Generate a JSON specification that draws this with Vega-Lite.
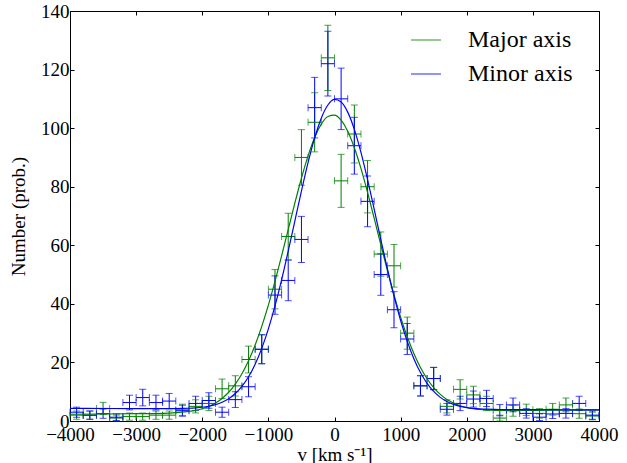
{
  "$schema": "https://vega.github.io/schema/vega-lite/v6.json",
  "width": 529,
  "height": 410,
  "autosize": {"type": "none"},
  "padding": {"left": 70, "top": 11, "right": 28, "bottom": 42},
  "background": "white",
  "datasets": {
    "pts": [
      {"s":"Major axis","v":-3900,"v0":-4000,"v1":-3800,"n":2,"lo":0.59,"hi":3.41},
      {"s":"Major axis","v":-3700,"v0":-3800,"v1":-3600,"n":2,"lo":0.59,"hi":3.41},
      {"s":"Major axis","v":-3500,"v0":-3600,"v1":-3400,"n":4.3,"lo":2.23,"hi":6.37},
      {"s":"Major axis","v":-3300,"v0":-3400,"v1":-3200,"n":1,"lo":0,"hi":2},
      {"s":"Major axis","v":-3100,"v0":-3200,"v1":-3000,"n":1.5,"lo":0.28,"hi":2.72},
      {"s":"Major axis","v":-2900,"v0":-3000,"v1":-2800,"n":1.5,"lo":0.28,"hi":2.72},
      {"s":"Major axis","v":-2700,"v0":-2800,"v1":-2600,"n":2,"lo":0.59,"hi":3.41},
      {"s":"Major axis","v":-2500,"v0":-2600,"v1":-2400,"n":2,"lo":0.59,"hi":3.41},
      {"s":"Major axis","v":-2300,"v0":-2400,"v1":-2200,"n":3.8,"lo":1.85,"hi":5.75},
      {"s":"Major axis","v":-2100,"v0":-2200,"v1":-2000,"n":5,"lo":2.76,"hi":7.24},
      {"s":"Major axis","v":-1900,"v0":-2000,"v1":-1800,"n":6,"lo":3.55,"hi":8.45},
      {"s":"Major axis","v":-1700,"v0":-1800,"v1":-1600,"n":11,"lo":7.68,"hi":14.32},
      {"s":"Major axis","v":-1500,"v0":-1600,"v1":-1400,"n":12,"lo":8.54,"hi":15.46},
      {"s":"Major axis","v":-1300,"v0":-1400,"v1":-1200,"n":21,"lo":16.42,"hi":25.58},
      {"s":"Major axis","v":-1100,"v0":-1200,"v1":-1000,"n":24.5,"lo":19.55,"hi":29.45},
      {"s":"Major axis","v":-900,"v0":-1000,"v1":-800,"n":45,"lo":38.29,"hi":51.71},
      {"s":"Major axis","v":-700,"v0":-800,"v1":-600,"n":63,"lo":55.06,"hi":70.94},
      {"s":"Major axis","v":-500,"v0":-600,"v1":-400,"n":90,"lo":80.51,"hi":99.49},
      {"s":"Major axis","v":-300,"v0":-400,"v1":-200,"n":102,"lo":91.9,"hi":112.1},
      {"s":"Major axis","v":-100,"v0":-200,"v1":0,"n":124,"lo":112.86,"hi":135.14},
      {"s":"Major axis","v":100,"v0":0,"v1":200,"n":82,"lo":72.94,"hi":91.06},
      {"s":"Major axis","v":300,"v0":200,"v1":400,"n":98,"lo":88.1,"hi":107.9},
      {"s":"Major axis","v":500,"v0":400,"v1":600,"n":80,"lo":71.06,"hi":88.94},
      {"s":"Major axis","v":700,"v0":600,"v1":800,"n":57,"lo":49.45,"hi":64.55},
      {"s":"Major axis","v":900,"v0":800,"v1":1000,"n":53,"lo":45.72,"hi":60.28},
      {"s":"Major axis","v":1100,"v0":1000,"v1":1200,"n":30,"lo":24.52,"hi":35.48},
      {"s":"Major axis","v":1300,"v0":1200,"v1":1400,"n":12,"lo":8.54,"hi":15.46},
      {"s":"Major axis","v":1500,"v0":1400,"v1":1600,"n":14.5,"lo":10.69,"hi":18.31},
      {"s":"Major axis","v":1700,"v0":1600,"v1":1800,"n":5,"lo":2.76,"hi":7.24},
      {"s":"Major axis","v":1900,"v0":1800,"v1":2000,"n":10.8,"lo":7.51,"hi":14.09},
      {"s":"Major axis","v":2100,"v0":2000,"v1":2200,"n":8.9,"lo":5.92,"hi":11.88},
      {"s":"Major axis","v":2300,"v0":2200,"v1":2400,"n":6,"lo":3.55,"hi":8.45},
      {"s":"Major axis","v":2500,"v0":2400,"v1":2600,"n":1,"lo":0,"hi":2},
      {"s":"Major axis","v":2700,"v0":2600,"v1":2800,"n":3.5,"lo":1.63,"hi":5.37},
      {"s":"Major axis","v":2900,"v0":2800,"v1":3000,"n":3.8,"lo":1.85,"hi":5.75},
      {"s":"Major axis","v":3100,"v0":3000,"v1":3200,"n":2.6,"lo":0.99,"hi":4.21},
      {"s":"Major axis","v":3300,"v0":3200,"v1":3400,"n":4,"lo":2,"hi":6},
      {"s":"Major axis","v":3500,"v0":3400,"v1":3600,"n":5.5,"lo":3.15,"hi":7.85},
      {"s":"Major axis","v":3700,"v0":3600,"v1":3800,"n":2.5,"lo":0.92,"hi":4.08},
      {"s":"Major axis","v":3900,"v0":3800,"v1":4000,"n":1.7,"lo":0.4,"hi":3.0},
      {"s":"Minor axis","v":-3900,"v0":-4000,"v1":-3800,"n":3,"lo":1.27,"hi":4.73},
      {"s":"Minor axis","v":-3700,"v0":-3800,"v1":-3600,"n":2,"lo":0.59,"hi":3.41},
      {"s":"Minor axis","v":-3500,"v0":-3600,"v1":-3400,"n":2.5,"lo":0.92,"hi":4.08},
      {"s":"Minor axis","v":-3300,"v0":-3400,"v1":-3200,"n":1.3,"lo":0.16,"hi":2.44},
      {"s":"Minor axis","v":-3100,"v0":-3200,"v1":-3000,"n":6.3,"lo":3.79,"hi":8.81},
      {"s":"Minor axis","v":-2900,"v0":-3000,"v1":-2800,"n":8,"lo":5.17,"hi":10.83},
      {"s":"Minor axis","v":-2700,"v0":-2800,"v1":-2600,"n":6.3,"lo":3.79,"hi":8.81},
      {"s":"Minor axis","v":-2500,"v0":-2600,"v1":-2400,"n":6.8,"lo":4.19,"hi":9.41},
      {"s":"Minor axis","v":-2300,"v0":-2400,"v1":-2200,"n":3.5,"lo":1.63,"hi":5.37},
      {"s":"Minor axis","v":-2100,"v0":-2200,"v1":-2000,"n":6,"lo":3.55,"hi":8.45},
      {"s":"Minor axis","v":-1900,"v0":-2000,"v1":-1800,"n":7,"lo":4.35,"hi":9.65},
      {"s":"Minor axis","v":-1700,"v0":-1800,"v1":-1600,"n":3,"lo":1.27,"hi":4.73},
      {"s":"Minor axis","v":-1500,"v0":-1600,"v1":-1400,"n":7.3,"lo":4.6,"hi":10.0},
      {"s":"Minor axis","v":-1300,"v0":-1400,"v1":-1200,"n":11.7,"lo":8.28,"hi":15.12},
      {"s":"Minor axis","v":-1100,"v0":-1200,"v1":-1000,"n":24.5,"lo":19.55,"hi":29.45},
      {"s":"Minor axis","v":-900,"v0":-1000,"v1":-800,"n":43,"lo":36.44,"hi":49.56},
      {"s":"Minor axis","v":-700,"v0":-800,"v1":-600,"n":48,"lo":41.07,"hi":54.93},
      {"s":"Minor axis","v":-500,"v0":-600,"v1":-400,"n":62,"lo":54.13,"hi":69.87},
      {"s":"Minor axis","v":-300,"v0":-400,"v1":-200,"n":107,"lo":96.66,"hi":117.34},
      {"s":"Minor axis","v":-100,"v0":-200,"v1":0,"n":122,"lo":110.95,"hi":133.05},
      {"s":"Minor axis","v":100,"v0":0,"v1":200,"n":110,"lo":99.51,"hi":120.49},
      {"s":"Minor axis","v":300,"v0":200,"v1":400,"n":94,"lo":84.3,"hi":103.7},
      {"s":"Minor axis","v":500,"v0":400,"v1":600,"n":75,"lo":66.34,"hi":83.66},
      {"s":"Minor axis","v":700,"v0":600,"v1":800,"n":50,"lo":42.93,"hi":57.07},
      {"s":"Minor axis","v":900,"v0":800,"v1":1000,"n":38,"lo":31.84,"hi":44.16},
      {"s":"Minor axis","v":1100,"v0":1000,"v1":1200,"n":28,"lo":22.71,"hi":33.29},
      {"s":"Minor axis","v":1300,"v0":1200,"v1":1400,"n":12,"lo":8.54,"hi":15.46},
      {"s":"Minor axis","v":1500,"v0":1400,"v1":1600,"n":14.5,"lo":10.69,"hi":18.31},
      {"s":"Minor axis","v":1700,"v0":1600,"v1":1800,"n":4,"lo":2,"hi":6},
      {"s":"Minor axis","v":1900,"v0":1800,"v1":2000,"n":6,"lo":3.55,"hi":8.45},
      {"s":"Minor axis","v":2100,"v0":2000,"v1":2200,"n":7.5,"lo":4.76,"hi":10.24},
      {"s":"Minor axis","v":2300,"v0":2200,"v1":2400,"n":7.7,"lo":4.93,"hi":10.47},
      {"s":"Minor axis","v":2500,"v0":2400,"v1":2600,"n":3.7,"lo":1.78,"hi":5.62},
      {"s":"Minor axis","v":2700,"v0":2600,"v1":2800,"n":5.5,"lo":3.15,"hi":7.85},
      {"s":"Minor axis","v":2900,"v0":2800,"v1":3000,"n":2.6,"lo":0.99,"hi":4.21},
      {"s":"Minor axis","v":3100,"v0":3000,"v1":3200,"n":1.3,"lo":0.16,"hi":2.44},
      {"s":"Minor axis","v":3300,"v0":3200,"v1":3400,"n":2.4,"lo":0.85,"hi":3.95},
      {"s":"Minor axis","v":3500,"v0":3400,"v1":3600,"n":2.6,"lo":0.99,"hi":4.21},
      {"s":"Minor axis","v":3700,"v0":3600,"v1":3800,"n":6,"lo":3.55,"hi":8.45},
      {"s":"Minor axis","v":3900,"v0":3800,"v1":4000,"n":2,"lo":0.59,"hi":3.41}
    ],
    "fit": [
      {"s":"Major axis","v":-4000,"n":2.30},{"s":"Major axis","v":-3500,"n":2.39},{"s":"Major axis","v":-3000,"n":2.49},
      {"s":"Major axis","v":-2500,"n":2.72},{"s":"Major axis","v":-2400,"n":2.83},{"s":"Major axis","v":-2300,"n":3.01},
      {"s":"Major axis","v":-2200,"n":3.26},{"s":"Major axis","v":-2100,"n":3.65},{"s":"Major axis","v":-2000,"n":4.20},
      {"s":"Major axis","v":-1900,"n":5.00},{"s":"Major axis","v":-1800,"n":6.14},{"s":"Major axis","v":-1700,"n":7.71},
      {"s":"Major axis","v":-1600,"n":9.81},{"s":"Major axis","v":-1500,"n":12.58},{"s":"Major axis","v":-1400,"n":16.13},
      {"s":"Major axis","v":-1300,"n":20.55},{"s":"Major axis","v":-1200,"n":25.93},{"s":"Major axis","v":-1100,"n":32.29},
      {"s":"Major axis","v":-1000,"n":39.55},{"s":"Major axis","v":-900,"n":47.65},{"s":"Major axis","v":-800,"n":56.36},
      {"s":"Major axis","v":-700,"n":65.38},{"s":"Major axis","v":-600,"n":74.38},{"s":"Major axis","v":-500,"n":82.89},
      {"s":"Major axis","v":-400,"n":90.51},{"s":"Major axis","v":-300,"n":96.81},{"s":"Major axis","v":-200,"n":101.38},
      {"s":"Major axis","v":-100,"n":103.99},{"s":"Major axis","v":0,"n":104.45},{"s":"Major axis","v":100,"n":102.73},
      {"s":"Major axis","v":200,"n":98.95},{"s":"Major axis","v":300,"n":93.33},{"s":"Major axis","v":400,"n":86.24},
      {"s":"Major axis","v":500,"n":78.06},{"s":"Major axis","v":600,"n":69.24},{"s":"Major axis","v":700,"n":60.22},
      {"s":"Major axis","v":800,"n":51.39},{"s":"Major axis","v":900,"n":43.06},{"s":"Major axis","v":1000,"n":35.47},
      {"s":"Major axis","v":1100,"n":28.78},{"s":"Major axis","v":1200,"n":23.05},{"s":"Major axis","v":1300,"n":18.28},
      {"s":"Major axis","v":1400,"n":14.43},{"s":"Major axis","v":1500,"n":11.41},{"s":"Major axis","v":1600,"n":9.09},
      {"s":"Major axis","v":1700,"n":7.36},{"s":"Major axis","v":1800,"n":6.11},{"s":"Major axis","v":1900,"n":5.22},
      {"s":"Major axis","v":2000,"n":4.61},{"s":"Major axis","v":2100,"n":4.19},{"s":"Major axis","v":2200,"n":3.93},
      {"s":"Major axis","v":2300,"n":3.77},{"s":"Major axis","v":2400,"n":3.67},{"s":"Major axis","v":2500,"n":3.62},
      {"s":"Major axis","v":3000,"n":3.61},{"s":"Major axis","v":3500,"n":3.71},{"s":"Major axis","v":4000,"n":3.80},
      {"s":"Minor axis","v":-4000,"n":4.30},{"s":"Minor axis","v":-3500,"n":4.27},{"s":"Minor axis","v":-3000,"n":4.24},
      {"s":"Minor axis","v":-2500,"n":4.24},{"s":"Minor axis","v":-2400,"n":4.25},{"s":"Minor axis","v":-2300,"n":4.29},
      {"s":"Minor axis","v":-2200,"n":4.36},{"s":"Minor axis","v":-2100,"n":4.49},{"s":"Minor axis","v":-2000,"n":4.69},
      {"s":"Minor axis","v":-1900,"n":5.04},{"s":"Minor axis","v":-1800,"n":5.58},{"s":"Minor axis","v":-1700,"n":6.41},
      {"s":"Minor axis","v":-1600,"n":7.63},{"s":"Minor axis","v":-1500,"n":9.38},{"s":"Minor axis","v":-1400,"n":11.82},
      {"s":"Minor axis","v":-1300,"n":15.10},{"s":"Minor axis","v":-1200,"n":19.40},{"s":"Minor axis","v":-1100,"n":24.81},
      {"s":"Minor axis","v":-1000,"n":31.45},{"s":"Minor axis","v":-900,"n":39.30},{"s":"Minor axis","v":-800,"n":48.22},
      {"s":"Minor axis","v":-700,"n":58.00},{"s":"Minor axis","v":-600,"n":68.26},{"s":"Minor axis","v":-500,"n":78.51},
      {"s":"Minor axis","v":-400,"n":88.19},{"s":"Minor axis","v":-300,"n":96.68},{"s":"Minor axis","v":-200,"n":103.41},
      {"s":"Minor axis","v":-100,"n":107.90},{"s":"Minor axis","v":0,"n":109.79},{"s":"Minor axis","v":100,"n":108.96},
      {"s":"Minor axis","v":200,"n":105.47},{"s":"Minor axis","v":300,"n":99.57},{"s":"Minor axis","v":400,"n":91.72},
      {"s":"Minor axis","v":500,"n":82.42},{"s":"Minor axis","v":600,"n":72.31},{"s":"Minor axis","v":700,"n":61.99},
      {"s":"Minor axis","v":800,"n":51.95},{"s":"Minor axis","v":900,"n":42.63},{"s":"Minor axis","v":1000,"n":34.32},
      {"s":"Minor axis","v":1100,"n":27.19},{"s":"Minor axis","v":1200,"n":21.28},{"s":"Minor axis","v":1300,"n":16.53},
      {"s":"Minor axis","v":1400,"n":12.85},{"s":"Minor axis","v":1500,"n":10.09},{"s":"Minor axis","v":1600,"n":8.06},
      {"s":"Minor axis","v":1700,"n":6.63},{"s":"Minor axis","v":1800,"n":5.66},{"s":"Minor axis","v":1900,"n":5.00},
      {"s":"Minor axis","v":2000,"n":4.58},{"s":"Minor axis","v":2100,"n":4.30},{"s":"Minor axis","v":2200,"n":4.13},
      {"s":"Minor axis","v":2300,"n":4.03},{"s":"Minor axis","v":2400,"n":3.97},{"s":"Minor axis","v":2500,"n":3.93},
      {"s":"Minor axis","v":3000,"n":3.86},{"s":"Minor axis","v":3500,"n":3.83},{"s":"Minor axis","v":4000,"n":3.80}
    ]
  },
  "resolve": {"axis": {"x": "independent", "y": "independent"}},
  "layer": [
    {
      "data": {"name": "pts"},
      "mark": {"type": "rule", "strokeWidth": 1},
      "encoding": {
        "x": {"field": "v", "type": "quantitative", "scale": {"domain": [-4000, 4000], "nice": false},
              "axis": {"orient": "bottom", "values": [-4000,-3000,-2000,-1000,0,1000,2000,3000,4000], "format": "d",
                       "labelPadding": 8, "labelOverlap": false, "labelFlush": false, "labelBound": false,
                       "title": "v [km s⁻¹]", "titleX": 264.5, "titleY": 39, "titleBaseline": "alphabetic", "titleAnchor": "middle"}},
        "y": {"field": "lo", "type": "quantitative", "scale": {"domain": [0, 140], "nice": false},
              "axis": {"orient": "left", "values": [0,20,40,60,80,100,120,140], "labelPadding": 5, "labelOverlap": false, "labelFlush": false,
                       "title": "Number (prob.)", "titleX": -52, "titleY": 205, "titleAngle": -90, "titleBaseline": "middle", "titleAlign": "center"}},
        "y2": {"field": "hi"},
        "color": {"field": "s", "type": "nominal", "scale": {"domain": ["Major axis", "Minor axis"], "range": ["#008000", "#0000ff"]}}
      }
    },
    {
      "data": {"name": "pts"},
      "mark": {"type": "rule", "strokeWidth": 1},
      "encoding": {
        "x": {"field": "v0", "type": "quantitative",
              "axis": {"orient": "top", "values": [-4000,-3000,-2000,-1000,0,1000,2000,3000,4000], "labels": false, "title": null}},
        "x2": {"field": "v1"},
        "y": {"field": "n", "type": "quantitative",
              "axis": {"orient": "right", "values": [0,20,40,60,80,100,120,140], "labels": false, "title": null}},
        "color": {"field": "s", "type": "nominal"}
      }
    },
    {
      "data": {"name": "pts"},
      "mark": {"type": "tick", "orient": "horizontal", "size": 7, "thickness": 1},
      "encoding": {
        "x": {"field": "v", "type": "quantitative", "axis": null},
        "y": {"field": "hi", "type": "quantitative", "axis": null},
        "color": {"field": "s", "type": "nominal"}
      }
    },
    {
      "data": {"name": "pts"},
      "mark": {"type": "tick", "orient": "horizontal", "size": 7, "thickness": 1},
      "encoding": {
        "x": {"field": "v", "type": "quantitative", "axis": null},
        "y": {"field": "lo", "type": "quantitative", "axis": null},
        "color": {"field": "s", "type": "nominal"}
      }
    },
    {
      "data": {"name": "pts"},
      "mark": {"type": "tick", "orient": "vertical", "size": 7, "thickness": 1},
      "encoding": {
        "x": {"field": "v0", "type": "quantitative", "axis": null},
        "y": {"field": "n", "type": "quantitative", "axis": null},
        "color": {"field": "s", "type": "nominal"}
      }
    },
    {
      "data": {"name": "pts"},
      "mark": {"type": "tick", "orient": "vertical", "size": 7, "thickness": 1},
      "encoding": {
        "x": {"field": "v1", "type": "quantitative", "axis": null},
        "y": {"field": "n", "type": "quantitative", "axis": null},
        "color": {"field": "s", "type": "nominal"}
      }
    },
    {
      "data": {"name": "fit"},
      "mark": {"type": "line", "strokeWidth": 1.2, "interpolate": "monotone"},
      "encoding": {
        "x": {"field": "v", "type": "quantitative", "axis": null},
        "y": {"field": "n", "type": "quantitative", "axis": null},
        "color": {"field": "s", "type": "nominal"}
      }
    }
  ],
  "config": {
    "view": {"stroke": "black", "strokeWidth": 1},
    "axis": {"grid": false, "domain": false, "tickColor": "black", "tickWidth": 1, "tickSize": -4,
             "labelFont": "Liberation Serif", "labelFontSize": 19, "labelColor": "black",
             "titleFont": "Liberation Serif", "titleFontSize": 19, "titleFontWeight": "normal", "titleColor": "black"},
    "legend": {"orient": "none", "legendX": 340, "legendY": 13, "title": null, "symbolType": "stroke",
               "symbolSize": 900, "symbolStrokeWidth": 1.2, "labelFont": "Liberation Serif", "labelFontSize": 24,
               "labelOffset": 26, "rowPadding": 6, "labelColor": "black", "padding": 0}
  }
}
